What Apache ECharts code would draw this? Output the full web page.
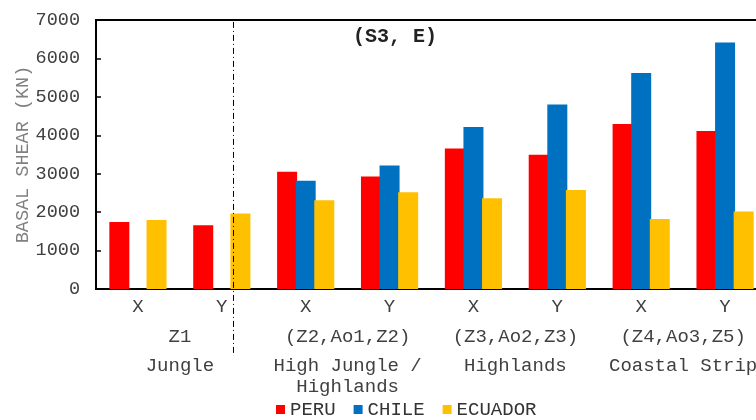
<!DOCTYPE html>
<html>
<head>
<meta charset="utf-8">
<script src="https://cdn.jsdelivr.net/npm/echarts@6/dist/echarts.min.js"></script>
<style>html,body{margin:0;padding:0;background:#fff;}#c{width:756px;height:420px;}</style>
</head>
<body>
<div id="c"></div>
<script>
const directions = ['X','Y','X','Y','X','Y','X','Y'];
const zones = ['Z1','(Z2,Ao1,Z2)','(Z3,Ao2,Z3)','(Z4,Ao3,Z5)'];
const regions = ['Jungle','High Jungle /\nHighlands','Highlands','Coastal Strip'];
const peru = [1745, 1660, 3052, 2930, 3656, 3492, 4296, 4114];
const chile = [null, null, 2818, 3215, 4218, 4804, 5618, 6412];
const ecuador = [1797, 1963, 2307, 2515, 2359, 2574, 1823, 2015];
const yTicks = [0, 1000, 2000, 3000, 4000, 5000, 6000, 7000];
const FONT = '"Courier New", "Liberation Mono", monospace';

const chart = echarts.init(document.getElementById('c'));
const catAxisBase = {
  type: 'category',
  position: 'bottom',
  axisTick: {show: false},
  axisLine: {show: false},
  splitLine: {show: false}
};
const labelBase = {fontFamily: FONT, fontSize: 19, color: '#404040', margin: 8, interval: 0, hideOverlap: false};
chart.setOption({
  animation: false,
  title: {
    text: '(S3, E)', left: 353, top: 27, padding: 0,
    textStyle: {fontFamily: FONT, fontWeight: 'bold', fontSize: 20, color: '#222'}
  },
  legend: {
    left: 276, top: 400, padding: 0,
    itemWidth: 9, itemHeight: 9, itemGap: 18,
    icon: 'rect',
    textStyle: {fontFamily: FONT, fontSize: 19, color: '#333'},
    data: ['PERU','CHILE','ECUADOR']
  },
  grid: {
    left: 96, right: -11, top: 20, bottom: 131,
    show: true, borderColor: '#000', borderWidth: 2, backgroundColor: 'transparent',
    outerBoundsMode: 'none', containLabel: false
  },
  xAxis: [
    Object.assign({}, catAxisBase, {
      data: directions,
      axisLine: {show: true, lineStyle: {color: '#000', width: 2}},
      axisLabel: Object.assign({}, labelBase)
    }),
    Object.assign({}, catAxisBase, {
      data: zones, offset: 30,
      axisLabel: Object.assign({}, labelBase)
    }),
    Object.assign({}, catAxisBase, {
      data: regions, offset: 58,
      axisLabel: Object.assign({}, labelBase, {lineHeight: 21})
    })
  ],
  yAxis: {
    type: 'value',
    min: yTicks[0], max: yTicks[yTicks.length - 1], interval: 1000,
    name: 'BASAL SHEAR (KN)', nameLocation: 'middle', nameGap: 63, nameMoveOverlap: false,
    nameTextStyle: {fontFamily: FONT, fontSize: 18.5, color: '#808080'},
    axisLine: {show: true, lineStyle: {color: '#000', width: 2}},
    axisTick: {show: true, inside: true, length: 5, lineStyle: {color: '#000', width: 1.5}},
    splitLine: {show: false},
    axisLabel: {fontFamily: FONT, fontSize: 18.5, color: '#404040', margin: 16, formatter: v => String(v)}
  },
  series: [
    {name: 'PERU', type: 'bar', xAxisIndex: 0, data: peru, barWidth: 20, barGap: '-7%', itemStyle: {color: '#FF0000'}},
    {name: 'CHILE', type: 'bar', xAxisIndex: 0, data: chile, barWidth: 20, barGap: '-7%', itemStyle: {color: '#0070C0'}},
    {name: 'ECUADOR', type: 'bar', xAxisIndex: 0, data: ecuador, barWidth: 20, barGap: '-7%', itemStyle: {color: '#FFC000'}}
  ]
});

// dash-dot divider between Jungle and the other regions, placed via the axis scale
const x1 = chart.convertToPixel({xAxisIndex: 0}, 1);
const x2 = chart.convertToPixel({xAxisIndex: 0}, 2);
const dx = x1 + 0.13 * (x2 - x1);
const yTop = chart.convertToPixel({yAxisIndex: 0}, 6950);
chart.setOption({
  graphic: [{
    type: 'line', silent: true, z: 100,
    shape: {x1: Math.round(dx) + 0.5, y1: yTop, x2: Math.round(dx) + 0.5, y2: 356},
    style: {stroke: '#000', lineWidth: 1, lineDash: [6, 3, 1, 3]}
  }]
});
</script>
</body>
</html>
